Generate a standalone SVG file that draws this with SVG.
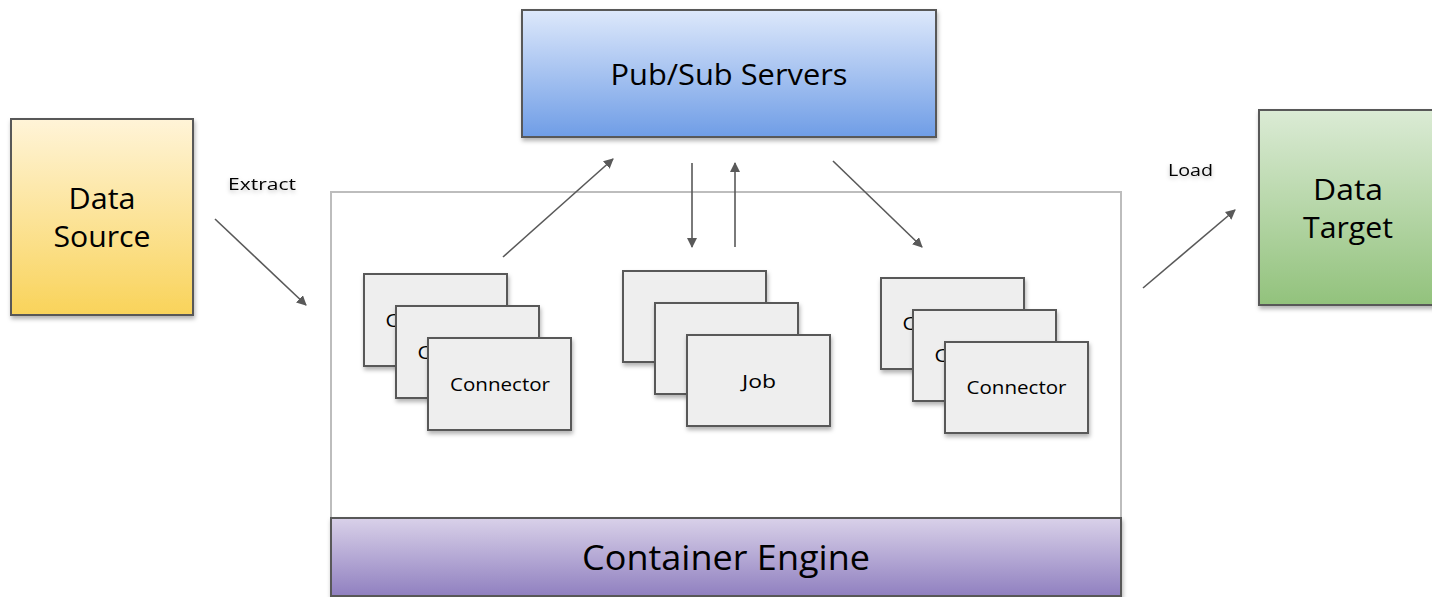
<svg xmlns="http://www.w3.org/2000/svg" width="1432" height="597" viewBox="0 0 1432 597">
<defs>
<linearGradient id="gY" x1="0" y1="0" x2="0" y2="1"><stop offset="0" stop-color="#fff4d8"/><stop offset="1" stop-color="#f9d35a"/></linearGradient>
<linearGradient id="gB" x1="0" y1="0" x2="0" y2="1"><stop offset="0" stop-color="#dde8fb"/><stop offset="1" stop-color="#6f9de6"/></linearGradient>
<linearGradient id="gG" x1="0" y1="0" x2="0" y2="1"><stop offset="0" stop-color="#dbebd5"/><stop offset="1" stop-color="#92c27c"/></linearGradient>
<linearGradient id="gP" x1="0" y1="0" x2="0" y2="1"><stop offset="0" stop-color="#d9d1e9"/><stop offset="1" stop-color="#9080c0"/></linearGradient>
<filter id="sh" x="-10%" y="-10%" width="130%" height="130%"><feDropShadow dx="1" dy="3" stdDeviation="2" flood-color="#000" flood-opacity="0.3"/></filter>
<filter id="tsh" x="-20%" y="-40%" width="140%" height="200%"><feDropShadow dx="0" dy="2" stdDeviation="2" flood-color="#000" flood-opacity="0.25"/></filter>
<marker id="ah" markerWidth="10" markerHeight="10" refX="9" refY="5" orient="auto" markerUnits="userSpaceOnUse"><path d="M0,0 L10,5 L0,10 Z" fill="#595959"/></marker>
<style>
.box{stroke:#595959;stroke-width:2;filter:url(#sh)}
.card{fill:#eeeeee;stroke:#595959;stroke-width:2;filter:url(#sh)}
.t{font-family:"Open Sans","Noto Sans",sans-serif;fill:#000;text-anchor:middle}
.big{font-size:29px}
.sm{font-size:18px}
.lbl{font-size:17px;filter:url(#tsh)}
.ar{stroke:#595959;stroke-width:1.6;fill:none;marker-end:url(#ah)}
</style>
</defs>

<g id="container">
<rect x="331" y="192" width="790" height="404" fill="#ffffff" stroke="#bdbdbd" stroke-width="2"/>
</g>

<g id="container-engine">
<rect class="box" x="331" y="518" width="790" height="78" fill="url(#gP)"/>
<text class="t" x="726" y="570" font-size="34" textLength="288" lengthAdjust="spacingAndGlyphs">Container Engine</text>
</g>

<g id="data-source">
<rect class="box" x="11" y="119" width="182" height="196" fill="url(#gY)"/>
<text class="t big" x="102" y="209" textLength="67" lengthAdjust="spacingAndGlyphs">Data</text>
<text class="t big" x="102" y="247" textLength="97" lengthAdjust="spacingAndGlyphs">Source</text>
</g>

<g id="pubsub">
<rect class="box" x="522" y="10" width="414" height="127" fill="url(#gB)"/>
<text class="t big" x="729" y="85" textLength="237" lengthAdjust="spacingAndGlyphs">Pub/Sub Servers</text>
</g>

<g id="data-target">
<rect class="box" x="1259" y="110" width="180" height="195" fill="url(#gG)"/>
<text class="t big" x="1348" y="200" textLength="70" lengthAdjust="spacingAndGlyphs">Data</text>
<text class="t big" x="1348" y="238" textLength="90" lengthAdjust="spacingAndGlyphs">Target</text>
</g>

<g id="source-connectors">
<rect class="card" x="364" y="274" width="143" height="92"/>
<text class="t sm" x="435.5" y="327" textLength="100" lengthAdjust="spacingAndGlyphs">Connector</text>
<rect class="card" x="396" y="306" width="143" height="92"/>
<text class="t sm" x="467.5" y="359" textLength="100" lengthAdjust="spacingAndGlyphs">Connector</text>
<rect class="card" x="428" y="338" width="143" height="92"/>
<text class="t sm" x="500" y="391" textLength="100" lengthAdjust="spacingAndGlyphs">Connector</text>
</g>

<g id="jobs">
<rect class="card" x="623" y="271" width="143" height="91"/>
<rect class="card" x="655" y="303" width="143" height="91"/>
<rect class="card" x="687" y="335" width="143" height="91"/>
<text class="t sm" x="759" y="388" textLength="34" lengthAdjust="spacingAndGlyphs">Job</text>
</g>

<g id="target-connectors">
<rect class="card" x="881" y="278" width="143" height="91"/>
<text class="t sm" x="952.5" y="330" textLength="100" lengthAdjust="spacingAndGlyphs">Connector</text>
<rect class="card" x="913" y="310" width="143" height="91"/>
<text class="t sm" x="984.5" y="362" textLength="100" lengthAdjust="spacingAndGlyphs">Connector</text>
<rect class="card" x="945" y="342" width="143" height="91"/>
<text class="t sm" x="1016.5" y="394" textLength="100" lengthAdjust="spacingAndGlyphs">Connector</text>
</g>

<g id="connectors">
<line class="ar" x1="215" y1="219" x2="306" y2="305"/>
<line class="ar" x1="503" y1="257" x2="613" y2="159"/>
<line class="ar" x1="692" y1="163" x2="692" y2="247"/>
<line class="ar" x1="735" y1="247" x2="735" y2="163"/>
<line class="ar" x1="833" y1="161" x2="922" y2="247"/>
<line class="ar" x1="1143" y1="288" x2="1235" y2="210"/>
<text class="t lbl" x="262" y="190" textLength="68" lengthAdjust="spacingAndGlyphs">Extract</text>
<text class="t lbl" x="1190.5" y="176" textLength="45" lengthAdjust="spacingAndGlyphs">Load</text>
</g>
</svg>
